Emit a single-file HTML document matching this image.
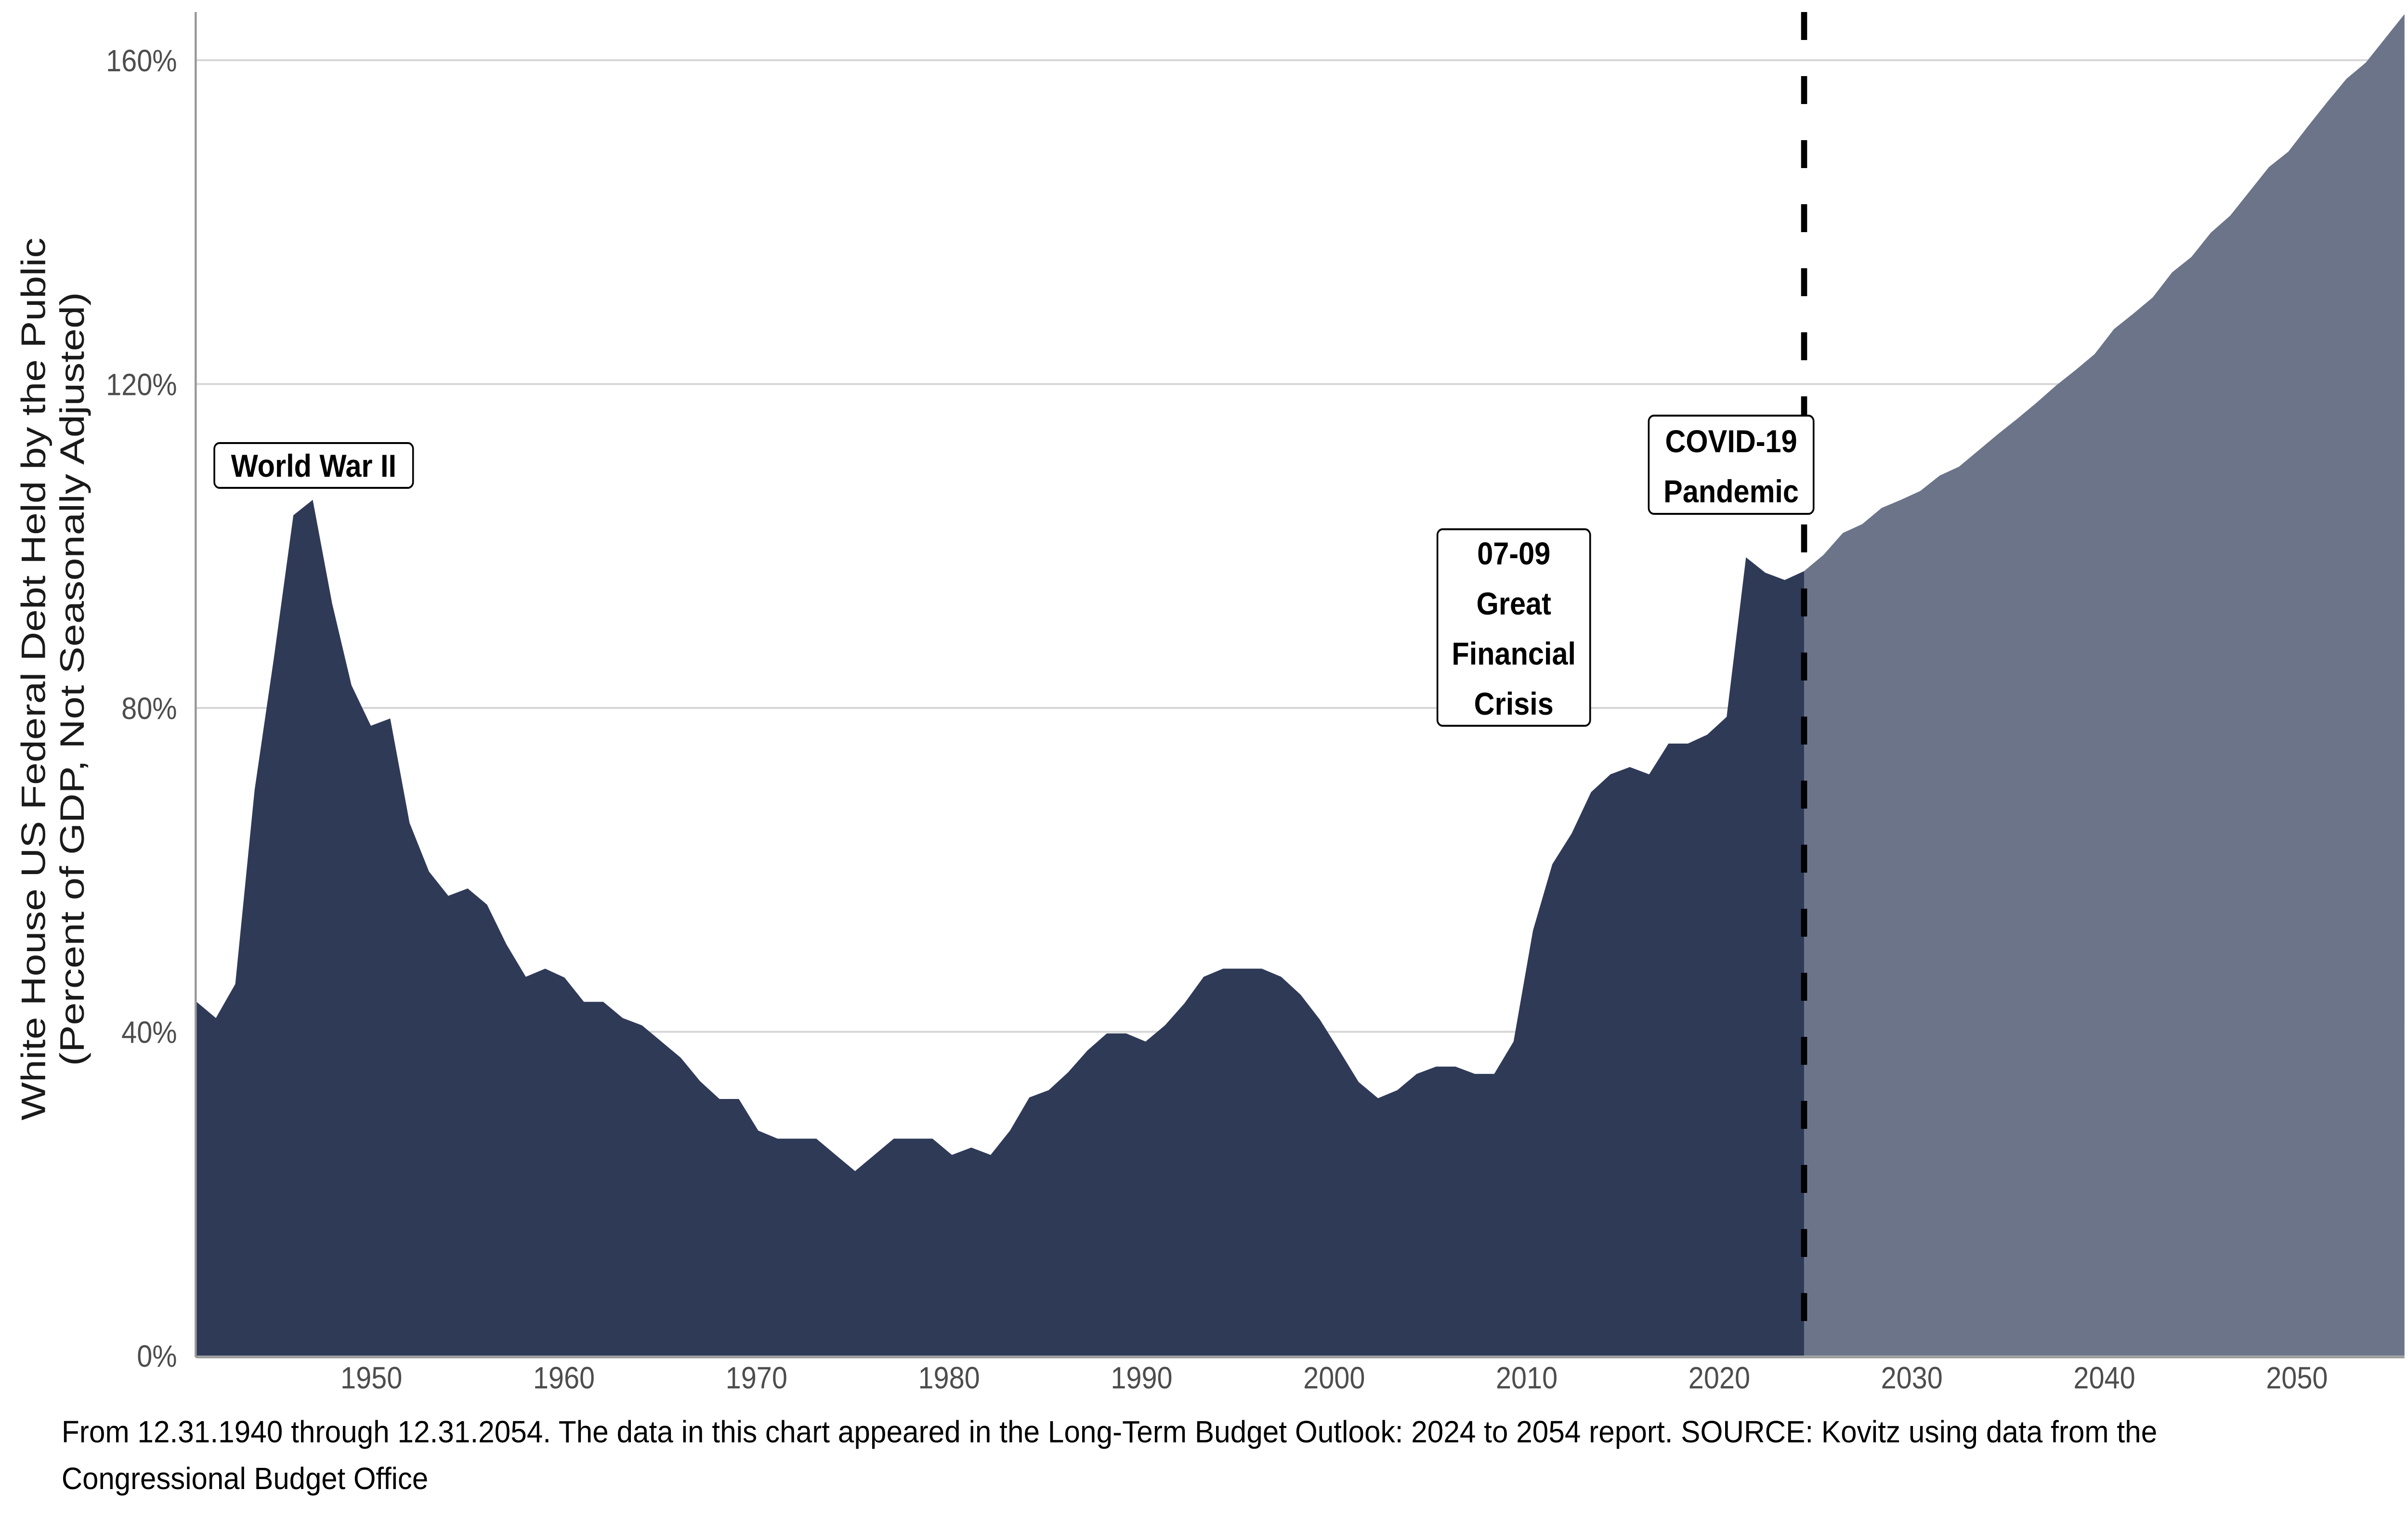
<!DOCTYPE html>
<html><head><meta charset="utf-8">
<style>
html,body{margin:0;padding:0;background:#fff;overflow:hidden;width:100%;height:100%;}
svg{display:block;font-family:"Liberation Sans",Arial,sans-serif;width:100vw;height:100vh;}
</style></head>
<body>
<svg id="chart" viewBox="0 0 5550 3150" preserveAspectRatio="none" xmlns="http://www.w3.org/2000/svg">
  <g id="grid"></g>
  <g id="areas"></g>
  <g id="axes"></g>
  <text transform="translate(104,1410) rotate(-90)" text-anchor="middle" font-size="78" fill="#1a1a1a" textLength="1833" lengthAdjust="spacingAndGlyphs">White House US Federal Debt Held by the Public</text>
  <text transform="translate(193,1410) rotate(-90)" text-anchor="middle" font-size="78" fill="#1a1a1a" textLength="1607" lengthAdjust="spacingAndGlyphs">(Percent of GDP, Not Seasonally Adjusted)</text>
  <g id="annots"></g>
  <text x="142" y="2995" font-size="64" fill="#000" textLength="4830" lengthAdjust="spacingAndGlyphs">From 12.31.1940 through 12.31.2054. The data in this chart appeared in the Long-Term Budget Outlook: 2024 to 2054 report. SOURCE: Kovitz using data from the</text>
  <text x="142" y="3092" font-size="64" fill="#000" textLength="845" lengthAdjust="spacingAndGlyphs">Congressional Budget Office</text>
</svg>
<script>
const years = [];
for (let y = 1941; y <= 2055; y++) years.push(y);
const debtValues = [
43.7,41.7,45.9,69.9,86.3,103.8,105.7,92.9,82.8,77.8,
78.7,65.8,59.8,56.8,57.7,55.7,50.8,46.8,47.8,46.7,
43.7,43.7,41.7,40.8,38.8,36.8,33.9,31.7,31.7,27.8,
26.8,26.8,26.8,24.8,22.8,24.8,26.8,26.8,26.8,24.8,
25.7,24.8,27.8,31.9,32.8,35.0,37.7,39.8,39.8,38.8,
40.8,43.5,46.8,47.8,47.8,47.8,46.8,44.6,41.5,37.7,
33.8,31.8,32.8,34.8,35.7,35.7,34.8,34.8,38.8,52.5,
60.7,64.5,69.6,71.8,72.7,71.8,75.6,75.6,76.7,78.9,
98.6,96.7,95.8,96.9,98.9,101.6,102.7,104.7,105.7,106.8,
108.7,109.8,111.8,113.8,115.7,117.7,119.8,121.7,123.7,126.8,
128.7,130.7,133.8,135.7,138.7,140.8,143.8,146.8,148.7,151.8,
154.8,157.7,159.7,162.7,165.7];
const splitYear = 2024;
const yTicks = [0,40,80,120,160];
const yTickLabels = ["0%","40%","80%","120%","160%"];
const xTicks = [1950,1960,1970,1980,1990,2000,2010,2020,2030,2040,2050];
const annotationTexts = [["World War II"],["07-09","Great","Financial","Crisis"],["COVID-19","Pandemic"]];

const NS = "http://www.w3.org/2000/svg";
const X0 = 451, X1 = 5542, Y0 = 2815, YT = 125;
function xs(y){ return 856 + (y - 1950) * 44.38; }
function xd(y){ return Math.min(X1, Math.max(X0, 453 + (y - 1941) * 44.64)); }
function ys(v){ return Y0 - v / 160 * (Y0 - YT); }
function mk(tag, attrs, parent){ const e = document.createElementNS(NS, tag); for (const k in attrs) e.setAttribute(k, attrs[k]); parent.appendChild(e); return e; }

const grid = document.getElementById('grid');
yTicks.forEach((t,i) => {
  if (t > 0) {
    const l = mk('line', {x1:X0, x2:X1, y1:ys(t), y2:ys(t), stroke:'#d6d6d6', 'stroke-width':4}, grid);
    
    
  }
});

const areas = document.getElementById('areas');
function areaPath(filterFn){
  const pts = [];
  years.forEach((y,i) => { if (filterFn(y)) pts.push([xd(y), ys(debtValues[i])]); });
  let d = 'M' + pts[0][0] + ',' + Y0;
  pts.forEach(p => d += ' L' + p[0].toFixed(1) + ',' + p[1].toFixed(1));
  d += ' L' + pts[pts.length-1][0] + ',' + Y0 + ' Z';
  return d;
}
const hist = mk('path', {d: areaPath(y => y <= splitYear), fill:'#2f3a57'}, areas);


const proj = mk('path', {d: areaPath(y => y >= splitYear), fill:'#6c7489'}, areas);



const axes = document.getElementById('axes');
const ya = mk('line', {x1:X0, x2:X0, y1:25, y2:Y0+3, stroke:'#999', 'stroke-width':5}, axes);


const xa = mk('line', {x1:X0, x2:X1, y1:Y0+3, y2:Y0+3, stroke:'#999', 'stroke-width':5}, axes);


yTicks.forEach((t,i) => {
  const tx = mk('text', {x:408, y:ys(t)+23, 'text-anchor':'end', 'font-size':64, fill:'#4d4d4d'}, axes);
  tx.textContent = yTickLabels[i];
  
  
});
xTicks.forEach(t => {
  const tx = mk('text', {x:xs(t), y:2883, 'text-anchor':'middle', 'font-size':64, fill:'#4d4d4d'}, axes);
  tx.textContent = String(t);
  
  
});
const dl = mk('line', {x1:xd(splitYear), x2:xd(splitYear), y1:25, y2:Y0, stroke:'#000', 'stroke-width':14, 'stroke-dasharray':'58 75'}, axes);



const ann = document.getElementById('annots');
const boxes = [
  {x:494, y:920, w:458, h:93, lines:annotationTexts[0], cx:723, y0:990, lh:0, name:'annotation-ww2'},
  {x:3313, y:1099, w:352, h:408, lines:annotationTexts[1], cx:3489, y0:1172, lh:104, name:'annotation-financial-crisis'},
  {x:3800, y:863, w:380, h:204, lines:annotationTexts[2], cx:3990, y0:939, lh:104, name:'annotation-covid'}
];
boxes.forEach(b => {
  const g = mk('g', {}, ann);
  
  
  mk('rect', {x:b.x, y:b.y, width:b.w, height:b.h, rx:12, fill:'#fff', stroke:'#000', 'stroke-width':4}, g);
  b.lines.forEach((ln,i) => {
    const t = mk('text', {x:b.cx, y:b.y0 + i*b.lh, 'text-anchor':'middle', 'font-size':66, 'font-weight':'bold', fill:'#000'}, g);
    t.textContent = ln;
  });
});
</script>
</body></html>
